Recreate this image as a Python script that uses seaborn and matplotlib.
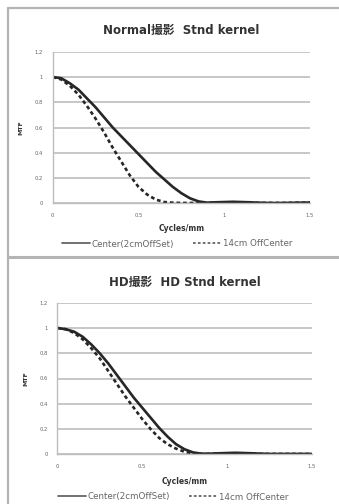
import numpy as np
import pandas as pd
import matplotlib
matplotlib.use("Agg")
import matplotlib.pyplot as plt
from matplotlib.lines import Line2D
import seaborn as sns

# spatial frequency (cycles/mm)
freq = [0.00, 0.05, 0.10, 0.15, 0.20, 0.25, 0.30, 0.35, 0.40, 0.45,
        0.50, 0.55, 0.60, 0.65, 0.70, 0.75, 0.80, 0.85, 0.90, 0.95,
        1.00, 1.05, 1.10, 1.15, 1.20, 1.25, 1.30, 1.35, 1.40, 1.45, 1.50]

# Normal / Stnd kernel
normal_center = [1.00, 0.99, 0.95, 0.90, 0.83, 0.76, 0.68, 0.60, 0.53, 0.46,
                 0.39, 0.32, 0.25, 0.19, 0.13, 0.08, 0.04, 0.015, 0.005, 0.008,
                 0.010, 0.012, 0.010, 0.008, 0.005, 0.003, 0.002, 0.003, 0.004, 0.005, 0.006]
normal_off = [1.00, 0.98, 0.93, 0.86, 0.77, 0.67, 0.56, 0.44, 0.33, 0.22,
              0.13, 0.07, 0.03, 0.01, 0.005, 0.003, 0.003, 0.003, 0.004, 0.005,
              0.005, 0.005, 0.004, 0.004, 0.003, 0.003, 0.003, 0.003, 0.004, 0.005, 0.006]

# HD / HD Stnd kernel
hd_center = [1.00, 0.99, 0.97, 0.93, 0.87, 0.80, 0.72, 0.63, 0.54, 0.45,
             0.37, 0.29, 0.21, 0.14, 0.08, 0.04, 0.015, 0.005, 0.005, 0.008,
             0.010, 0.012, 0.010, 0.008, 0.005, 0.003, 0.003, 0.003, 0.003, 0.003, 0.003]
hd_off = [1.00, 0.99, 0.96, 0.91, 0.84, 0.76, 0.66, 0.56, 0.46, 0.37,
          0.28, 0.20, 0.13, 0.08, 0.045, 0.02, 0.008, 0.003, 0.003, 0.004,
          0.005, 0.006, 0.005, 0.004, 0.003, 0.003, 0.003, 0.003, 0.003, 0.003, 0.003]

labels = ["Center(2cmOffSet)", "14cm OffCenter"]
titles = ["Normal撮影  Stnd kernel", "HD撮影  HD Stnd kernel"]
yticks = [0, 0.2, 0.4, 0.6, 0.8, 1, 1.2]
xticks = [0, 0.5, 1, 1.5]

sns.set_style("white")
plt.rcParams['font.family'] = ['DejaVu Sans', 'Noto Sans CJK JP']

W, H = 339, 504
fig = plt.figure(figsize=(W / 100, H / 100), dpi=100)

# chart frames (Excel-like border)
gray = "#b4b4b4"
fig.add_artist(Line2D([8 / W, 1], [1 - 8 / H, 1 - 8 / H], color=gray, lw=1.6))
fig.add_artist(Line2D([8 / W, 8 / W], [0, 1 - 8 / H], color=gray, lw=1.6))
fig.add_artist(Line2D([8 / W, 1], [1 - 257 / H, 1 - 257 / H], color=gray, lw=2.2))

panels = [
    dict(data=(normal_center, normal_off), title=titles[0],
         box=(52.7, 51.7, 310.0, 203.3), title_y=30, xlab_y=229, leg_y=244, leg_x=177),
    dict(data=(hd_center, hd_off), title=titles[1],
         box=(57.3, 302.7, 311.7, 454.3), title_y=282, xlab_y=481, leg_y=497, leg_x=173),
]

for p in panels:
    x0, y0, x1, y1 = p["box"]
    ax = fig.add_axes([x0 / W, 1 - y1 / H, (x1 - x0) / W, (y1 - y0) / H])
    df = pd.DataFrame({
        "freq": freq * 2,
        "MTF": list(p["data"][0]) + list(p["data"][1]),
        "series": [labels[0]] * len(freq) + [labels[1]] * len(freq),
    })
    sns.lineplot(data=df, x="freq", y="MTF", style="series", color="#262626",
                 dashes={labels[0]: "", labels[1]: (1.4, 1.1)}, linewidth=1.9,
                 legend=False, ax=ax)
    ax.set_xlim(0, 1.5)
    ax.set_ylim(0, 1.2)
    ax.set_xticks(xticks)
    ax.set_xticklabels(["0", "0.5", "1", "1.5"])
    ax.set_yticks(yticks)
    ax.set_yticklabels(["0", "0.2", "0.4", "0.6", "0.8", "1", "1.2"])
    ax.tick_params(labelsize=3.8, colors="#666666", length=2, width=0.5, pad=5)
    ax.yaxis.grid(True, color="#bdbdbd", lw=1.2)
    ax.set_axisbelow(True)
    for s in ["top", "right"]:
        ax.spines[s].set_visible(False)
    for s in ["left", "bottom"]:
        ax.spines[s].set_color("#bdbdbd")
        ax.spines[s].set_linewidth(1.0)
    ax.set_xlabel("")
    ax.set_ylabel("MTF", fontsize=4.5, fontweight="bold", color="#333333", labelpad=8)

    fig.text((x0 + x1) / 2 / W, 1 - p["title_y"] / H, p["title"], ha="center", va="center",
             fontsize=8.5, fontweight="bold", color="#333333")
    fig.text((x0 + x1) / 2 / W, 1 - p["xlab_y"] / H, "Cycles/mm", ha="center", va="center",
             fontsize=5.5, fontweight="bold", color="#333333")
    handles = [Line2D([], [], color="#666666", lw=1.3),
               Line2D([], [], color="#666666", lw=1.3, dashes=(1.5, 1.2))]
    fig.legend(handles, labels, loc="center", ncol=2, frameon=False, fontsize=6.3,
               bbox_to_anchor=(p["leg_x"] / W, 1 - p["leg_y"] / H),
               handlelength=3.2, handletextpad=0.2, columnspacing=2.2,
               labelcolor="#666666")

fig.savefig("out.png", dpi=100)
